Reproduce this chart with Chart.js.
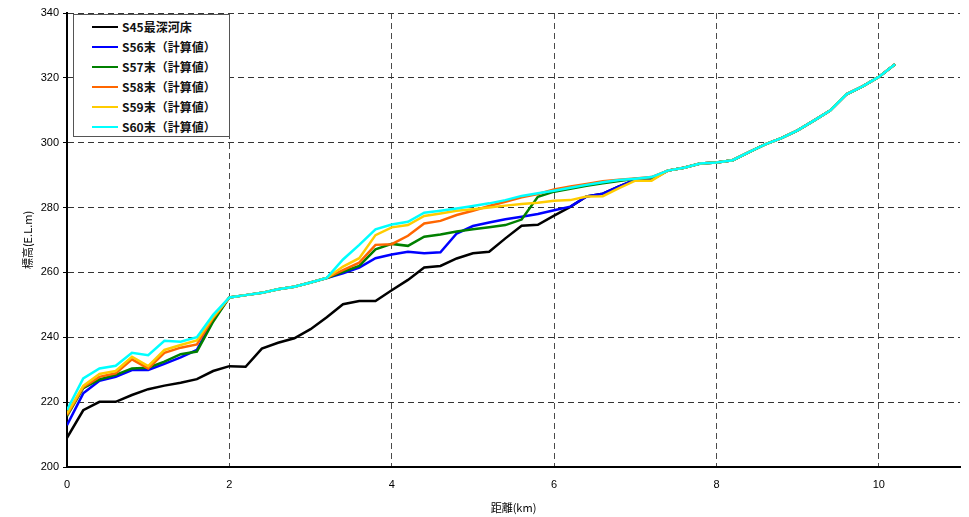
<!DOCTYPE html>
<html lang="ja">
<head>
<meta charset="utf-8">
<title>河床高縦断図</title>
<script src="https://cdn.jsdelivr.net/npm/chart.js@4.4.1/dist/chart.umd.min.js"></script>
<style>
  html, body { margin: 0; padding: 0; background: #fff; }
  #wrap { position: relative; width: 969px; height: 517px; }
  #chart { display: block; }
  #legend {
    position: absolute; left: 73px; top: 14px; width: 157px; height: 123px;
    background: #fff; border: 1.5px solid #555; box-sizing: border-box;
    font-family: "Noto Sans CJK JP", "Noto Sans", sans-serif; font-size: 12px; font-weight: bold; color: #111;
  }
  #legend .row { position: absolute; left: 0; height: 20px; display: flex; align-items: center; }
  #legend .swatch { width: 26px; height: 0; border-top: 2.5px solid; margin-left: 18px; margin-right: 4px; }
  #legend .txt { white-space: nowrap; line-height: 20px; }
</style>
</head>
<body>
<div id="wrap">
  <canvas id="chart" width="969" height="517"></canvas>
  <div id="legend"></div>
</div>
<script>
// 距離標 (km)
const distanceKm = [
  0.0, 0.2, 0.4, 0.6, 0.8, 1.0, 1.2, 1.4, 1.6, 1.8,
  2.0, 2.2, 2.4, 2.6, 2.8, 3.0, 3.2, 3.4, 3.6, 3.8,
  4.0, 4.2, 4.4, 4.6, 4.8, 5.0, 5.2, 5.4, 5.6, 5.8,
  6.0, 6.2, 6.4, 6.6, 6.8, 7.0, 7.2, 7.4, 7.6, 7.8,
  8.0, 8.2, 8.4, 8.6, 8.8, 9.0, 9.2, 9.4, 9.6, 9.8,
  10.0, 10.2
];

// 標高 (E.L.m)
const s45Bed = [
  209.0, 217.5, 220.1, 220.1, 222.2, 224.0, 225.1, 226.0, 227.1, 229.6,
  231.1, 230.9, 236.5, 238.3, 239.7, 242.5, 246.2, 250.2, 251.2, 251.2,
  254.5, 257.7, 261.5, 262.0, 264.3, 265.9, 266.4, 270.5, 274.4, 274.7,
  277.5, 280.2, 283.4, 284.3, 286.5, 288.6, 288.6, 291.4, 292.3, 293.6,
  293.9, 294.6, 297.1, 299.5, 301.4, 303.8, 306.8, 309.9, 314.9, 317.4,
  320.3, 324.2
];
const s56Calc = [
  212.9, 222.7, 226.6, 227.8, 229.9, 229.9, 231.8, 233.8, 236.1, 245.3,
  252.3, 253.0, 253.7, 254.8, 255.6, 256.9, 258.3, 259.7, 261.5, 264.4,
  265.5, 266.4, 265.9, 266.2, 272.0, 274.3, 275.4, 276.4, 277.2, 278.0,
  279.2, 280.3, 283.4, 284.3, 286.5, 288.6, 288.6, 291.4, 292.3, 293.6,
  293.9, 294.6, 297.1, 299.5, 301.4, 303.8, 306.8, 309.9, 314.9, 317.4,
  320.3, 324.2
];
const s57Calc = [
  215.7, 224.3, 227.0, 228.4, 230.4, 230.6, 232.5, 234.8, 235.6, 244.8,
  252.3, 253.0, 253.7, 254.8, 255.6, 256.9, 258.3, 260.2, 262.0, 267.1,
  268.8, 268.2, 271.0, 271.7, 272.6, 273.3, 273.9, 274.6, 276.3, 283.3,
  284.9, 285.8, 286.7, 287.5, 288.2, 288.9, 289.2, 291.4, 292.3, 293.6,
  293.9, 294.6, 297.1, 299.5, 301.4, 303.8, 306.8, 309.9, 314.9, 317.4,
  320.3, 324.2
];
const s58Calc = [
  216.0, 224.6, 227.8, 228.9, 233.2, 230.4, 235.2, 236.8, 237.8, 245.9,
  252.3, 253.0, 253.7, 254.8, 255.6, 256.9, 258.3, 260.7, 263.0, 268.5,
  268.7, 271.3, 275.1, 275.9, 277.7, 279.0, 280.5, 281.8, 283.2, 284.2,
  285.6, 286.5, 287.3, 288.1, 288.6, 289.0, 289.4, 291.4, 292.3, 293.6,
  293.9, 294.6, 297.1, 299.5, 301.4, 303.8, 306.8, 309.9, 314.9, 317.4,
  320.3, 324.2
];
const s59Calc = [
  216.5, 225.0, 228.7, 229.6, 234.0, 231.1, 236.1, 237.6, 239.0, 246.3,
  252.3, 253.0, 253.7, 254.8, 255.6, 256.9, 258.3, 261.8, 264.4, 271.5,
  273.9, 274.6, 277.4, 278.2, 279.0, 279.5, 280.0, 280.6, 281.1, 281.5,
  282.1, 282.3, 283.4, 283.5, 286.0, 288.3, 288.3, 291.4, 292.3, 293.6,
  293.9, 294.6, 297.1, 299.5, 301.4, 303.8, 306.8, 309.9, 314.9, 317.4,
  320.3, 324.2
];
const s60Calc = [
  217.6, 227.3, 230.4, 231.2, 235.2, 234.5, 238.9, 238.6, 240.0, 246.9,
  252.3, 253.0, 253.7, 254.8, 255.6, 256.9, 258.3, 264.0, 268.5, 273.3,
  274.8, 275.6, 278.4, 279.0, 279.7, 280.5, 281.3, 282.3, 283.6, 284.4,
  285.2, 286.1, 287.0, 287.8, 288.5, 288.9, 289.4, 291.4, 292.3, 293.6,
  293.9, 294.6, 297.1, 299.5, 301.4, 303.8, 306.8, 309.9, 314.9, 317.4,
  320.3, 324.2
];

const seriesNames = ['S45最深河床', 'S56末（計算値）', 'S57末（計算値）', 'S58末（計算値）', 'S59末（計算値）', 'S60末（計算値）'];
const seriesValues = [s45Bed, s56Calc, s57Calc, s58Calc, s59Calc, s60Calc];
const seriesColors = ['#000000', '#0000ff', '#008000', '#ff6600', '#ffcc00', '#00ffff'];

// 軸目盛
const xTicks = [0, 2, 4, 6, 8, 10];
const yTicks = [200, 220, 240, 260, 280, 300, 320, 340];

const toPoints = (vals) => vals.map((v, i) => ({ x: distanceKm[i], y: v }));

// later series are drawn over earlier ones
const datasets = seriesValues.map((vals, i) => ({
  label: seriesNames[i],
  data: toPoints(vals),
  borderColor: seriesColors[i],
  backgroundColor: seriesColors[i],
  borderWidth: 2.5,
  pointRadius: 0,
  tension: 0,
  fill: false,
  order: seriesValues.length - i
}));

const tickFont = { family: '"Liberation Sans", Arial, sans-serif', size: 11 };
const titleFont = { family: '"Noto Sans CJK JP", sans-serif', size: 11 };

new Chart(document.getElementById('chart'), {
  type: 'line',
  data: { datasets },
  options: {
    responsive: false,
    animation: false,
    devicePixelRatio: 1,
    layout: { padding: { top: 13, right: 9, left: 0, bottom: 0 } },
    plugins: { legend: { display: false }, tooltip: { enabled: false } },
    scales: {
      x: {
        type: 'linear',
        min: 0, max: 11,
        afterFit: (s) => { s.height = 50; },
        afterBuildTicks: (s) => { s.ticks = xTicks.map(v => ({ value: v })); },
        ticks: { font: tickFont, color: '#000', padding: 11, maxRotation: 0 },
        grid: { color: '#4a4a4a', lineWidth: 1, drawTicks: false },
        border: { display: true, color: '#000', width: 2, dash: [6, 4] },
        title: { display: true, text: '距離(km)', font: titleFont, color: '#000', padding: { top: 0, bottom: 3 } }
      },
      y: {
        type: 'linear',
        min: 200, max: 340,
        afterFit: (s) => { s.width = 67; },
        afterBuildTicks: (s) => { s.ticks = yTicks.map(v => ({ value: v })); },
        ticks: { font: tickFont, color: '#000', padding: 4 },
        grid: { color: '#333333', lineWidth: 1, drawTicks: true, tickLength: 4, tickColor: '#000', tickBorderDash: [] },
        border: { display: true, color: '#000', width: 2, dash: [6, 4] },
        title: { display: true, text: '標高(E.L.m)', font: titleFont, color: '#000', padding: { top: 21, bottom: 0 } }
      }
    }
  }
});

// 凡例
const legend = document.getElementById('legend');
seriesNames.forEach((name, i) => {
  const row = document.createElement('div');
  row.className = 'row';
  row.style.top = (2 + i * 20) + 'px';
  const sw = document.createElement('span');
  sw.className = 'swatch';
  sw.style.borderTopColor = seriesColors[i];
  const tx = document.createElement('span');
  tx.className = 'txt';
  tx.textContent = name;
  row.appendChild(sw);
  row.appendChild(tx);
  legend.appendChild(row);
});
</script>
</body>
</html>
